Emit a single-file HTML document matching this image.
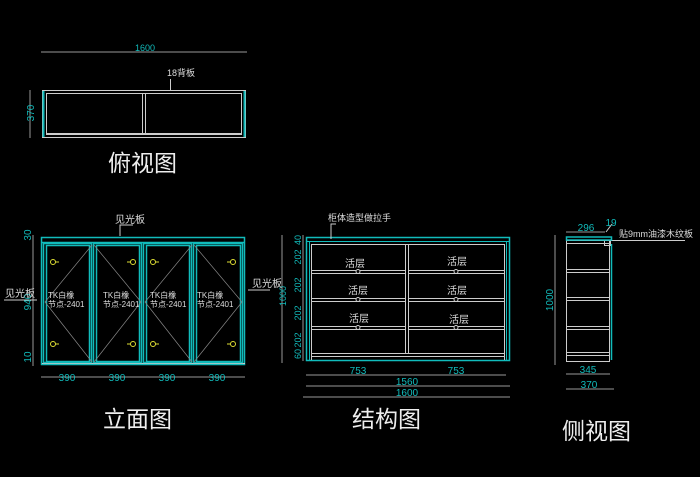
<!DOCTYPE html>
<html><head><meta charset="utf-8"><style>
html,body{margin:0;padding:0;background:#000;}
svg{display:block;}
text{font-family:"Liberation Sans","Noto Sans CJK SC",sans-serif;}
</style></head><body>
<svg width="700" height="477" viewBox="0 0 700 477" xmlns="http://www.w3.org/2000/svg">
<rect width="700" height="477" fill="#000"/>
<g fill="none" stroke-width="1">
<!-- TOP VIEW -->
<line x1="41" y1="52" x2="247" y2="52" stroke="#999"/>
<line x1="30" y1="90" x2="30" y2="138" stroke="#999"/>
<rect x="42.5" y="90.5" width="203" height="47" stroke="#ccc"/>
<line x1="43.5" y1="91" x2="43.5" y2="137" stroke="#1bb" stroke-width="2"/>
<line x1="244.5" y1="91" x2="244.5" y2="137" stroke="#1bb" stroke-width="2"/>
<rect x="46.5" y="93.5" width="195" height="40" stroke="#ccc"/>
<line x1="46" y1="134.5" x2="242" y2="134.5" stroke="#ccc"/>
<line x1="142.5" y1="94" x2="142.5" y2="134" stroke="#ccc"/>
<line x1="145.5" y1="94" x2="145.5" y2="134" stroke="#ccc"/>
<line x1="170.5" y1="79" x2="170.5" y2="90" stroke="#ccc"/>

<!-- ELEVATION -->
<line x1="33" y1="235" x2="33" y2="366" stroke="#999"/>
<line x1="41" y1="377" x2="245" y2="377" stroke="#999"/>
<rect x="41.5" y="237.5" width="203" height="127" stroke="#1bb" stroke-width="1.5"/>
<line x1="42" y1="242.5" x2="245" y2="242.5" stroke="#1bb" stroke-width="1.5"/>
<line x1="42" y1="363.5" x2="245" y2="363.5" stroke="#ccc"/>
<g stroke="#1bb" stroke-width="1.5">
<rect x="43.5" y="243.5" width="48" height="119"/><rect x="46.5" y="245.5" width="43" height="116"/>
<rect x="93.5" y="243.5" width="48" height="119"/><rect x="96.5" y="245.5" width="43" height="116"/>
<rect x="143.5" y="243.5" width="48" height="119"/><rect x="146.5" y="245.5" width="43" height="116"/>
<rect x="193.5" y="243.5" width="49" height="119"/><rect x="196.5" y="245.5" width="44" height="116"/>
</g>
<g stroke="#888" stroke-width="0.7">
<polyline points="92,245 45,302 92,362"/>
<polyline points="94,245 141,302 94,362"/>
<polyline points="192,245 145,302 192,362"/>
<polyline points="194,245 242,302 194,362"/>
</g>
<g stroke="#dd3" stroke-width="1">
<circle cx="53" cy="262" r="2.5"/><line x1="55.5" y1="262" x2="59" y2="262"/>
<circle cx="53" cy="344" r="2.5"/><line x1="55.5" y1="344" x2="59" y2="344"/>
<circle cx="133" cy="262" r="2.5"/><line x1="127" y1="262" x2="130.5" y2="262"/>
<circle cx="133" cy="344" r="2.5"/><line x1="127" y1="344" x2="130.5" y2="344"/>
<circle cx="153" cy="262" r="2.5"/><line x1="155.5" y1="262" x2="159" y2="262"/>
<circle cx="153" cy="344" r="2.5"/><line x1="155.5" y1="344" x2="159" y2="344"/>
<circle cx="233" cy="262" r="2.5"/><line x1="227" y1="262" x2="230.5" y2="262"/>
<circle cx="233" cy="344" r="2.5"/><line x1="227" y1="344" x2="230.5" y2="344"/>
</g>
<polyline points="120,236 120,225 133,225" stroke="#ccc"/>
<line x1="4" y1="300" x2="37" y2="300" stroke="#ccc"/>
<line x1="248" y1="290" x2="270" y2="290" stroke="#ccc"/>

<!-- STRUCTURE -->
<line x1="282" y1="235" x2="282" y2="363" stroke="#999"/>
<line x1="303" y1="235" x2="303" y2="361" stroke="#999"/>
<line x1="306" y1="375" x2="506" y2="375" stroke="#999"/>
<line x1="306" y1="386" x2="510" y2="386" stroke="#999"/>
<line x1="303" y1="397" x2="510" y2="397" stroke="#999"/>
<rect x="306.5" y="237.5" width="203" height="123" stroke="#1bb" stroke-width="1.5"/>
<line x1="307" y1="241.5" x2="509" y2="241.5" stroke="#1bb"/>
<line x1="309.5" y1="242" x2="309.5" y2="360" stroke="#1bb"/>
<line x1="506.5" y1="242" x2="506.5" y2="360" stroke="#1bb"/>
<g stroke="#ccc">
<line x1="311" y1="244.5" x2="505" y2="244.5"/>
<line x1="311.5" y1="244" x2="311.5" y2="360"/><line x1="504.5" y1="244" x2="504.5" y2="360"/>
<line x1="405.5" y1="245" x2="405.5" y2="354"/><line x1="408.5" y1="245" x2="408.5" y2="354"/>
<line x1="311" y1="270.5" x2="405" y2="270.5"/><line x1="311" y1="273.5" x2="405" y2="273.5"/>
<line x1="409" y1="270.5" x2="504" y2="270.5"/><line x1="409" y1="273.5" x2="504" y2="273.5"/>
<line x1="311" y1="298.5" x2="405" y2="298.5"/><line x1="311" y1="301.5" x2="405" y2="301.5"/>
<line x1="409" y1="298.5" x2="504" y2="298.5"/><line x1="409" y1="301.5" x2="504" y2="301.5"/>
<line x1="311" y1="326.5" x2="405" y2="326.5"/><line x1="311" y1="329.5" x2="405" y2="329.5"/>
<line x1="409" y1="326.5" x2="504" y2="326.5"/><line x1="409" y1="329.5" x2="504" y2="329.5"/>
<line x1="311" y1="353.5" x2="504" y2="353.5"/><line x1="311" y1="356.5" x2="504" y2="356.5"/>
<circle cx="358" cy="271.5" r="2" fill="#000"/><circle cx="456" cy="271.5" r="2" fill="#000"/>
<circle cx="358" cy="299.5" r="2" fill="#000"/><circle cx="456" cy="299.5" r="2" fill="#000"/>
<circle cx="358" cy="327.5" r="2" fill="#000"/><circle cx="456" cy="327.5" r="2" fill="#000"/>
<polyline points="331,239 331,224 336,224"/>
</g>

<!-- SIDE -->
<line x1="555" y1="235" x2="555" y2="365" stroke="#999"/>
<line x1="566" y1="232" x2="605" y2="232" stroke="#999"/>
<line x1="566" y1="374" x2="610" y2="374" stroke="#999"/>
<line x1="566" y1="389" x2="614" y2="389" stroke="#999"/>
<g stroke="#ccc">
<rect x="566.5" y="240.5" width="43" height="121"/>
<line x1="567" y1="243.5" x2="609" y2="243.5"/>
<line x1="567" y1="269.5" x2="609" y2="269.5"/><line x1="567" y1="272.5" x2="609" y2="272.5"/>
<line x1="567" y1="297.5" x2="609" y2="297.5"/><line x1="567" y1="300.5" x2="609" y2="300.5"/>
<line x1="567" y1="326.5" x2="609" y2="326.5"/><line x1="567" y1="329.5" x2="609" y2="329.5"/>
<line x1="567" y1="352.5" x2="609" y2="352.5"/><line x1="567" y1="355.5" x2="609" y2="355.5"/>
<rect x="604.5" y="240.5" width="6" height="5"/>
<line x1="606" y1="240.5" x2="685" y2="240.5"/>
<line x1="606" y1="232" x2="612" y2="224"/>
</g>
<rect x="566.5" y="237" width="45" height="3" stroke="#1bb" stroke-width="1.5"/>
<line x1="611.5" y1="244" x2="611.5" y2="360" stroke="#1bb" stroke-width="1.5"/>
</g>

<!-- TEXT -->
<g fill="#1bb" font-size="10">
<text x="145" y="51" text-anchor="middle" font-size="9">1600</text>
<text transform="translate(34,113) rotate(-90)" text-anchor="middle">370</text>
<text transform="translate(31,235) rotate(-90)" text-anchor="middle">30</text>
<text transform="translate(31,302) rotate(-90)" text-anchor="middle">940</text>
<text transform="translate(31,357) rotate(-90)" text-anchor="middle">10</text>
<text x="67" y="381" text-anchor="middle">390</text>
<text x="117" y="381" text-anchor="middle">390</text>
<text x="167" y="381" text-anchor="middle">390</text>
<text x="217" y="381" text-anchor="middle">390</text>
<g font-size="9">
<text transform="translate(301,240) rotate(-90)" text-anchor="middle">40</text>
<text transform="translate(301,257) rotate(-90)" text-anchor="middle">202</text>
<text transform="translate(301,285) rotate(-90)" text-anchor="middle">202</text>
<text transform="translate(301,313) rotate(-90)" text-anchor="middle">202</text>
<text transform="translate(301,340) rotate(-90)" text-anchor="middle">202</text>
<text transform="translate(301,354) rotate(-90)" text-anchor="middle">60</text>
<text transform="translate(286,296) rotate(-90)" text-anchor="middle">1000</text>
</g>
<text x="358" y="374" text-anchor="middle">753</text>
<text x="456" y="374" text-anchor="middle">753</text>
<text x="407" y="385" text-anchor="middle">1560</text>
<text x="407" y="396" text-anchor="middle">1600</text>
<text x="586" y="231" text-anchor="middle">296</text>
<text x="611" y="226" text-anchor="middle">19</text>
<text transform="translate(553,300) rotate(-90)" text-anchor="middle">1000</text>
<text x="588" y="373" text-anchor="middle">345</text>
<text x="589" y="388" text-anchor="middle">370</text>
</g>
<g fill="#ddd" font-size="10">
<text x="167" y="76" font-size="9">18背板</text>
<text x="115" y="223">见光板</text>
<text x="5" y="297">见光板</text>
<text x="252" y="287">见光板</text>
<g font-size="8">
<text x="48" y="298">TK白橡</text><text x="48" y="307">节点-2401</text>
<text x="103" y="298">TK白橡</text><text x="103" y="307">节点-2401</text>
<text x="150" y="298">TK白橡</text><text x="150" y="307">节点-2401</text>
<text x="197" y="298">TK白橡</text><text x="197" y="307">节点-2401</text>
</g>
<text x="328" y="221" font-size="9">柜体造型做拉手</text>
<text x="345" y="267">活层</text><text x="447" y="265">活层</text>
<text x="348" y="294">活层</text><text x="447" y="294">活层</text>
<text x="349" y="322">活层</text><text x="449" y="323">活层</text>
<text x="619" y="237" font-size="9">贴9mm油漆木纹板</text>
</g>
<g fill="#eee" font-size="23">
<text x="108" y="171" font-family="'Noto Serif CJK SC',serif">俯视图</text>
<text x="103" y="427" font-family="'Noto Serif CJK SC',serif">立面图</text>
<text x="352" y="427" font-family="'Noto Serif CJK SC',serif">结构图</text>
<text x="562" y="439" font-family="'Noto Serif CJK SC',serif">侧视图</text>
</g>
</svg>
</body></html>
